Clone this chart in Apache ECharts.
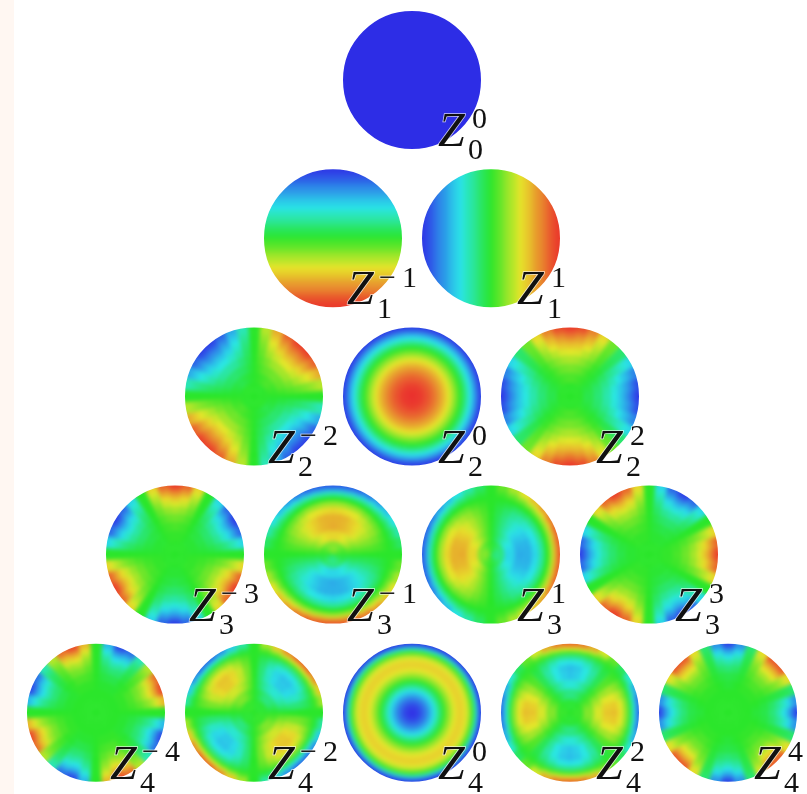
<!DOCTYPE html>
<html>
<head>
<meta charset="utf-8">
<script src="https://cdn.jsdelivr.net/npm/echarts@6/dist/echarts.min.js"></script>
<style>
html, body { margin: 0; padding: 0; background: #fff; overflow: hidden; }
#chart, #labels { position: absolute; left: 0; top: 0; width: 807px; height: 794px; }
/* the cells are softened here, the mask layer on top keeps the disc edges clean */
#chart { filter: blur(2px); }
#labels { filter: blur(0.5px); }
</style>
</head>
<body>
<div id="chart"></div>
<div id="labels"></div>
<script>
// values are colour levels 0 (blue) .. 100 (red), read from each disc
const z00Rings = [[0]];

// single-axis discs: left to right / top to bottom
const z1p1Bands = [2,5,8,12,15,18,22,25,28,32,35,38,42,45,48,52,55,58,62,65,68,72,75,78,82,85,88,92,95,98];
const z1m1Bands = [2,5,8,12,15,18,22,25,28,32,35,38,42,45,48,52,55,58,62,65,68,72,75,78,82,85,88,92,95,98];

// radial discs: centre to edge
const z20Rings = [100,100,99,99,98,97,95,94,92,90,88,85,83,80,77,73,70,66,62,58,53,49,44,39,33,28,22,16,10,3].map(v => [v]);
const z40Rings = [0,1,2,4,7,10,13,18,22,27,32,38,43,48,54,59,63,67,71,73,75,75,74,71,67,60,52,38,22,3].map(v => [v]);

// ring by ring, 36 sectors counter-clockwise from 3 o'clock
const z2m2Rings = [
  [50,50,50,50,50,50,50,50,50,50,50,50,50,50,50,50,50,50,50,50,50,50,50,50,50,50,50,50,50,50,50,50,50,50,50,50],
  [50,51,52,53,54,54,53,52,51,50,49,48,47,46,46,47,48,49,50,51,52,53,54,54,53,52,51,50,49,48,47,46,46,47,48,49],
  [50,53,56,57,58,58,57,56,53,50,47,44,43,42,42,43,44,47,50,53,56,57,58,58,57,56,53,50,47,44,43,42,42,43,44,47],
  [50,55,59,63,64,64,63,59,55,50,45,41,37,36,36,37,41,45,50,55,59,63,64,64,63,59,55,50,45,41,37,36,36,37,41,45],
  [50,57,64,68,71,71,68,64,57,50,43,36,32,29,29,32,36,43,50,57,64,68,71,71,68,64,57,50,43,36,32,29,29,32,36,43],
  [50,59,68,74,77,77,74,68,59,50,41,32,26,23,23,26,32,41,50,59,68,74,77,77,74,68,59,50,41,32,26,23,23,26,32,41],
  [50,61,71,79,83,83,79,71,61,50,39,29,21,17,17,21,29,39,50,61,71,79,83,83,79,71,61,50,39,29,21,17,17,21,29,39],
  [50,63,75,84,88,88,84,75,63,50,37,25,16,12,12,16,25,37,50,63,75,84,88,88,84,75,63,50,37,25,16,12,12,16,25,37],
  [50,65,78,88,93,93,88,78,65,50,35,22,12,7,7,12,22,35,50,65,78,88,93,93,88,78,65,50,35,22,12,7,7,12,22,35],
  [50,66,81,92,97,97,92,81,66,50,34,19,8,3,3,8,19,34,50,66,81,92,97,97,92,81,66,50,34,19,8,3,3,8,19,34]
];
const z2p2Rings = [
  [50,50,50,50,50,50,50,50,50,50,50,50,50,50,50,50,50,50,50,50,50,50,50,50,50,50,50,50,50,50,50,50,50,50,50,50],
  [46,46,47,48,49,51,52,53,54,54,54,53,52,51,49,48,47,46,46,46,47,48,49,51,52,53,54,54,54,53,52,51,49,48,47,46],
  [41,42,43,46,49,51,54,57,58,59,58,57,54,51,49,46,43,42,41,42,43,46,49,51,54,57,58,59,58,57,54,51,49,46,43,42],
  [35,36,39,43,48,52,57,61,64,65,64,61,57,52,48,43,39,36,35,36,39,43,48,52,57,61,64,65,64,61,57,52,48,43,39,36],
  [29,30,34,39,46,54,61,66,70,71,70,66,61,54,46,39,34,30,29,30,34,39,46,54,61,66,70,71,70,66,61,54,46,39,34,30],
  [23,24,29,36,45,55,64,71,76,77,76,71,64,55,45,36,29,24,23,24,29,36,45,55,64,71,76,77,76,71,64,55,45,36,29,24],
  [17,19,24,33,44,56,67,76,81,83,81,76,67,56,44,33,24,19,17,19,24,33,44,56,67,76,81,83,81,76,67,56,44,33,24,19],
  [11,14,20,31,43,57,69,80,86,89,86,80,69,57,43,31,20,14,11,14,20,31,43,57,69,80,86,89,86,80,69,57,43,31,20,14],
  [6,9,16,28,43,57,72,84,91,94,91,84,72,57,43,28,16,9,6,9,16,28,43,57,72,84,91,94,91,84,72,57,43,28,16,9],
  [2,5,13,26,42,58,74,87,95,98,95,87,74,58,42,26,13,5,2,5,13,26,42,58,74,87,95,98,95,87,74,58,42,26,13,5]
];
const z3m3Rings = [
  [50,50,50,50,50,50,50,50,50,50,50,50,50,50,50,50,50,50,50,50,50,50,50,50,50,50,50,50,50,50,50,50,50,50,50,50],
  [50,49,49,49,49,49,50,51,51,51,51,51,50,49,49,49,49,49,50,51,51,51,51,51,50,49,49,49,49,49,50,51,51,51,51,51],
  [50,48,47,46,47,48,50,52,53,54,53,52,50,48,47,46,47,48,50,52,53,54,53,52,50,48,47,46,47,48,50,52,53,54,53,52],
  [50,46,43,42,43,46,50,54,57,58,57,54,50,46,43,42,43,46,50,54,57,58,57,54,50,46,43,42,43,46,50,54,57,58,57,54],
  [50,43,38,36,38,43,50,57,62,64,62,57,50,43,38,36,38,43,50,57,62,64,62,57,50,43,38,36,38,43,50,57,62,64,62,57],
  [50,40,32,30,32,40,50,60,68,70,68,60,50,40,32,30,32,40,50,60,68,70,68,60,50,40,32,30,32,40,50,60,68,70,68,60],
  [50,36,27,23,27,36,50,64,73,77,73,64,50,36,27,23,27,36,50,64,73,77,73,64,50,36,27,23,27,36,50,64,73,77,73,64],
  [50,33,20,16,20,33,50,67,80,84,80,67,50,33,20,16,20,33,50,67,80,84,80,67,50,33,20,16,20,33,50,67,80,84,80,67],
  [50,30,14,9,14,30,50,70,86,91,86,70,50,30,14,9,14,30,50,70,86,91,86,70,50,30,14,9,14,30,50,70,86,91,86,70],
  [50,26,9,3,9,26,50,74,91,97,91,74,50,26,9,3,9,26,50,74,91,97,91,74,50,26,9,3,9,26,50,74,91,97,91,74]
];
const z3p3Rings = [
  [50,50,50,50,50,50,50,50,50,50,50,50,50,50,50,50,50,50,50,50,50,50,50,50,50,50,50,50,50,50,50,50,50,50,50,50],
  [51,51,51,50,49,49,49,49,49,50,51,51,51,51,51,50,49,49,49,49,49,50,51,51,51,51,51,50,49,49,49,49,49,50,51,51],
  [54,53,52,50,48,47,46,47,48,50,52,53,54,53,52,50,48,47,46,47,48,50,52,53,54,53,52,50,48,47,46,47,48,50,52,53],
  [58,57,54,50,46,43,42,43,46,50,54,57,58,57,54,50,46,43,42,43,46,50,54,57,58,57,54,50,46,43,42,43,46,50,54,57],
  [64,62,57,50,43,38,36,38,43,50,57,62,64,62,57,50,43,38,36,38,43,50,57,62,64,62,57,50,43,38,36,38,43,50,57,62],
  [70,68,60,50,40,32,30,32,40,50,60,68,70,68,60,50,40,32,30,32,40,50,60,68,70,68,60,50,40,32,30,32,40,50,60,68],
  [77,73,64,50,36,27,23,27,36,50,64,73,77,73,64,50,36,27,23,27,36,50,64,73,77,73,64,50,36,27,23,27,36,50,64,73],
  [84,80,67,50,33,20,16,20,33,50,67,80,84,80,67,50,33,20,16,20,33,50,67,80,84,80,67,50,33,20,16,20,33,50,67,80],
  [91,86,70,50,30,14,9,14,30,50,70,86,91,86,70,50,30,14,9,14,30,50,70,86,91,86,70,50,30,14,9,14,30,50,70,86],
  [97,91,74,50,26,9,3,9,26,50,74,91,97,91,74,50,26,9,3,9,26,50,74,91,97,91,74,50,26,9,3,9,26,50,74,91]
];
const z3p1Rings = [
  [40,40,41,41,42,44,45,47,48,50,52,53,55,56,58,59,59,60,60,60,59,59,58,56,55,53,52,50,48,47,45,44,42,41,41,40],
  [26,26,27,29,31,34,38,42,46,50,54,58,62,66,69,71,73,74,74,74,73,71,69,66,62,58,54,50,46,42,38,34,31,29,27,26],
  [19,20,21,23,26,30,35,40,45,50,55,60,65,70,74,77,79,80,81,80,79,77,74,70,65,60,55,50,45,40,35,30,26,23,21,20],
  [20,20,21,24,27,31,35,40,45,50,55,60,65,69,73,76,79,80,80,80,79,76,73,69,65,60,55,50,45,40,35,31,27,24,21,20],
  [26,27,28,29,32,35,38,42,46,50,54,58,62,65,68,71,72,73,74,73,72,71,68,65,62,58,54,50,46,42,38,35,32,29,28,27],
  [37,37,38,39,40,42,43,46,48,50,52,54,57,58,60,62,62,63,63,63,62,62,60,58,57,54,52,50,48,46,43,42,40,39,38,37],
  [50,50,50,50,50,50,50,50,50,50,50,50,50,50,50,50,50,50,50,50,50,50,50,50,50,50,50,50,50,50,50,50,50,50,50,50],
  [64,64,63,62,61,59,57,55,52,50,48,45,43,41,39,38,37,36,36,36,37,38,39,41,43,45,48,50,52,55,57,59,61,62,63,64],
  [79,79,77,75,72,69,65,60,55,50,45,40,35,31,28,25,23,21,21,21,23,25,28,31,35,40,45,50,55,60,65,69,72,75,77,79],
  [93,92,91,88,83,78,72,65,57,50,43,35,28,22,17,12,9,8,7,8,9,12,17,22,28,35,43,50,57,65,72,78,83,88,91,92]
];
const z3m1Rings = [
  [50,52,53,55,56,58,59,59,60,60,60,59,59,58,56,55,53,52,50,48,47,45,44,42,41,41,40,40,40,41,41,42,44,45,47,48],
  [50,54,58,62,66,69,71,73,74,74,74,73,71,69,66,62,58,54,50,46,42,38,34,31,29,27,26,26,26,27,29,31,34,38,42,46],
  [50,55,60,65,70,74,77,79,80,81,80,79,77,74,70,65,60,55,50,45,40,35,30,26,23,21,20,19,20,21,23,26,30,35,40,45],
  [50,55,60,65,69,73,76,79,80,80,80,79,76,73,69,65,60,55,50,45,40,35,31,27,24,21,20,20,20,21,24,27,31,35,40,45],
  [50,54,58,62,65,68,71,72,73,74,73,72,71,68,65,62,58,54,50,46,42,38,35,32,29,28,27,26,27,28,29,32,35,38,42,46],
  [50,52,54,57,58,60,62,62,63,63,63,62,62,60,58,57,54,52,50,48,46,43,42,40,39,38,37,37,37,38,39,40,42,43,46,48],
  [50,50,50,50,50,50,50,50,50,50,50,50,50,50,50,50,50,50,50,50,50,50,50,50,50,50,50,50,50,50,50,50,50,50,50,50],
  [50,48,45,43,41,39,38,37,36,36,36,37,38,39,41,43,45,48,50,52,55,57,59,61,62,63,64,64,64,63,62,61,59,57,55,52],
  [50,45,40,35,31,28,25,23,21,21,21,23,25,28,31,35,40,45,50,55,60,65,69,72,75,77,79,79,79,77,75,72,69,65,60,55],
  [50,43,35,28,22,17,12,9,8,7,8,9,12,17,22,28,35,43,50,57,65,72,78,83,88,91,92,93,92,91,88,83,78,72,65,57]
];
const z4m4Rings = [
  [50,50,50,50,50,50,50,50,50,50,50,50,50,50,50,50,50,50,50,50,50,50,50,50,50,50,50,50,50,50,50,50,50,50,50,50],
  [50,50,50,50,50,50,50,50,50,50,50,50,50,50,50,50,50,50,50,50,50,50,50,50,50,50,50,50,50,50,50,50,50,50,50,50],
  [50,51,51,51,51,49,49,49,49,50,51,51,51,51,49,49,49,49,50,51,51,51,51,49,49,49,49,50,51,51,51,51,49,49,49,49],
  [50,53,54,54,51,49,46,46,47,50,53,54,54,51,49,46,46,47,50,53,54,54,51,49,46,46,47,50,53,54,54,51,49,46,46,47],
  [50,56,59,58,53,47,42,41,44,50,56,59,58,53,47,42,41,44,50,56,59,58,53,47,42,41,44,50,56,59,58,53,47,42,41,44],
  [50,60,65,63,55,45,37,35,40,50,60,65,63,55,45,37,35,40,50,60,65,63,55,45,37,35,40,50,60,65,63,55,45,37,35,40],
  [50,64,72,69,57,43,31,28,36,50,64,72,69,57,43,31,28,36,50,64,72,69,57,43,31,28,36,50,64,72,69,57,43,31,28,36],
  [50,69,79,76,60,40,24,21,31,50,69,79,76,60,40,24,21,31,50,69,79,76,60,40,24,21,31,50,69,79,76,60,40,24,21,31],
  [50,74,87,83,63,37,17,13,26,50,74,87,83,63,37,17,13,26,50,74,87,83,63,37,17,13,26,50,74,87,83,63,37,17,13,26],
  [50,79,95,90,66,34,10,5,21,50,79,95,90,66,34,10,5,21,50,79,95,90,66,34,10,5,21,50,79,95,90,66,34,10,5,21]
];
const z4p4Rings = [
  [50,50,50,50,50,50,50,50,50,50,50,50,50,50,50,50,50,50,50,50,50,50,50,50,50,50,50,50,50,50,50,50,50,50,50,50],
  [50,50,50,50,50,50,50,50,50,50,50,50,50,50,50,50,50,50,50,50,50,50,50,50,50,50,50,50,50,50,50,50,50,50,50,50],
  [48,49,50,51,51,51,51,50,49,48,49,50,51,51,51,51,50,49,48,49,50,51,51,51,51,50,49,48,49,50,51,51,51,51,50,49],
  [46,47,49,52,54,54,52,49,47,46,47,49,52,54,54,52,49,47,46,47,49,52,54,54,52,49,47,46,47,49,52,54,54,52,49,47],
  [41,43,48,55,58,58,55,48,43,41,43,48,55,58,58,55,48,43,41,43,48,55,58,58,55,48,43,41,43,48,55,58,58,55,48,43],
  [35,38,47,58,64,64,58,47,38,35,38,47,58,64,64,58,47,38,35,38,47,58,64,64,58,47,38,35,38,47,58,64,64,58,47,38],
  [28,33,46,61,71,71,61,46,33,28,33,46,61,71,71,61,46,33,28,33,46,61,71,71,61,46,33,28,33,46,61,71,71,61,46,33],
  [20,27,45,65,78,78,65,45,27,20,27,45,65,78,78,65,45,27,20,27,45,65,78,78,65,45,27,20,27,45,65,78,78,65,45,27],
  [12,21,44,69,86,86,69,44,21,12,21,44,69,86,86,69,44,21,12,21,44,69,86,86,69,44,21,12,21,44,69,86,86,69,44,21],
  [4,15,42,73,93,93,73,42,15,4,15,42,73,93,93,73,42,15,4,15,42,73,93,93,73,42,15,4,15,42,73,93,93,73,42,15]
];
const z4m2Rings = [
  [50,49,49,49,49,49,49,49,49,50,51,51,51,51,51,51,51,51,50,49,49,49,49,49,49,49,49,50,51,51,51,51,51,51,51,51],
  [50,47,44,41,40,40,41,44,47,50,53,56,59,60,60,59,56,53,50,47,44,41,40,40,41,44,47,50,53,56,59,60,60,59,56,53],
  [50,43,37,33,31,31,33,37,43,50,57,63,67,69,69,67,63,57,50,43,37,33,31,31,33,37,43,50,57,63,67,69,69,67,63,57],
  [50,41,33,27,24,24,27,33,41,50,59,67,73,76,76,73,67,59,50,41,33,27,24,24,27,33,41,50,59,67,73,76,76,73,67,59],
  [50,41,32,26,23,23,26,32,41,50,59,68,74,77,77,74,68,59,50,41,32,26,23,23,26,32,41,50,59,68,74,77,77,74,68,59],
  [50,43,36,31,28,28,31,36,43,50,57,64,69,72,72,69,64,57,50,43,36,31,28,28,31,36,43,50,57,64,69,72,72,69,64,57],
  [50,46,43,40,39,39,40,43,46,50,54,57,60,61,61,60,57,54,50,46,43,40,39,39,40,43,46,50,54,57,60,61,61,60,57,54],
  [50,51,52,53,54,54,53,52,51,50,49,48,47,46,46,47,48,49,50,51,52,53,54,54,53,52,51,50,49,48,47,46,46,47,48,49],
  [50,57,64,69,71,71,69,64,57,50,43,36,31,29,29,31,36,43,50,57,64,69,71,71,69,64,57,50,43,36,31,29,29,31,36,43],
  [50,64,76,85,90,90,85,76,64,50,36,24,15,10,10,15,24,36,50,64,76,85,90,90,85,76,64,50,36,24,15,10,10,15,24,36]
];
const z4p2Rings = [
  [52,51,51,51,50,50,49,49,49,49,49,49,49,50,50,51,51,51,52,51,51,51,50,50,49,49,49,49,49,49,49,50,50,51,51,51],
  [60,60,58,55,52,48,45,42,40,40,40,42,45,48,52,55,58,60,60,60,58,55,52,48,45,42,40,40,40,42,45,48,52,55,58,60],
  [70,69,65,60,53,47,40,35,31,30,31,35,40,47,53,60,65,69,70,69,65,60,53,47,40,35,31,30,31,35,40,47,53,60,65,69],
  [77,75,71,63,55,45,37,29,25,23,25,29,37,45,55,63,71,75,77,75,71,63,55,45,37,29,25,23,25,29,37,45,55,63,71,75],
  [78,76,71,64,55,45,36,29,24,22,24,29,36,45,55,64,71,76,78,76,71,64,55,45,36,29,24,22,24,29,36,45,55,64,71,76],
  [72,71,67,61,54,46,39,33,29,28,29,33,39,46,54,61,67,71,72,71,67,61,54,46,39,33,29,28,29,33,39,46,54,61,67,71],
  [61,61,59,56,52,48,44,41,39,39,39,41,44,48,52,56,59,61,61,61,59,56,52,48,44,41,39,39,39,41,44,48,52,56,59,61],
  [46,46,47,48,49,51,52,53,54,54,54,53,52,51,49,48,47,46,46,46,47,48,49,51,52,53,54,54,54,53,52,51,49,48,47,46],
  [28,30,33,39,46,54,61,67,70,72,70,67,61,54,46,39,33,30,28,30,33,39,46,54,61,67,70,72,70,67,61,54,46,39,33,30],
  [10,12,19,30,43,57,70,81,88,90,88,81,70,57,43,30,19,12,10,12,19,30,43,57,70,81,88,90,88,81,70,57,43,30,19,12]
];

// pyramid rows: [subscript, superscript, kind, table]
const pyramid = [
  [[0, 0, 'rings', z00Rings]],
  [[1, -1, 'rowBands', z1m1Bands], [1, 1, 'colBands', z1p1Bands]],
  [[2, -2, 'rings', z2m2Rings], [2, 0, 'rings', z20Rings], [2, 2, 'rings', z2p2Rings]],
  [[3, -3, 'rings', z3m3Rings], [3, -1, 'rings', z3m1Rings], [3, 1, 'rings', z3p1Rings], [3, 3, 'rings', z3p3Rings]],
  [[4, -4, 'rings', z4m4Rings], [4, -2, 'rings', z4m2Rings], [4, 0, 'rings', z40Rings], [4, 2, 'rings', z4p2Rings], [4, 4, 'rings', z4p4Rings]]
];

// the 2D tables use narrower rings towards the edge
const ringEdges = [0, 0.2, 0.35, 0.48, 0.6, 0.7, 0.78, 0.85, 0.91, 0.96, 1];
const colorStops = ['#2d2de6','#2c5ce7','#2b8ce8','#29bae8','#28e6e6','#28e6a7','#28e667','#28e628',
  '#67e628','#a7e628','#e6e628','#e7ba2a','#e88c2c','#e95c2b','#ea2e2a'];

const discRadius = 69;
const midX = 412, topY = 80, stepX = 158, stepY = 158.2;
// outermost cells run on under the mask, so the blur does not fade the rim
const overdraw = 1.12;

function ringCells(table) {
  const cells = [];
  table.forEach(function (row, i) {
    const edges = table.length === 10 ? ringEdges : null;
    const r0 = edges ? edges[i] : i / table.length;
    const r1 = i === table.length - 1 ? overdraw : (edges ? edges[i + 1] : (i + 1) / table.length);
    const step = 360 / row.length;
    row.forEach(function (v, k) {
      cells.push([r0, r1, k * step - step / 2, k * step + step / 2, v]);
    });
  });
  return cells;
}

function bandCells(table, kind) {
  const last = table.length - 1;
  return table.map(function (v, i) {
    const a = i === 0 ? -overdraw : -1 + 2 * i / table.length;
    const b = i === last ? overdraw : -1 + 2 * (i + 1) / table.length;
    // row bands run from the top down
    return kind === 'colBands' ? [a, b, -overdraw, overdraw, v] : [-overdraw, overdraw, -a, -b, v];
  });
}

function renderRing(params, api) {
  const c = api.coord([0, 0]);
  const unit = api.size([1, 1])[0];
  const color = api.visual('color');
  return {
    type: 'sector',
    shape: {
      cx: c[0], cy: c[1],
      r0: api.value(0) * unit, r: api.value(1) * unit,
      startAngle: -api.value(3) * Math.PI / 180,
      endAngle: -api.value(2) * Math.PI / 180,
      clockwise: true
    },
    style: { fill: color, stroke: color, lineWidth: 0.6 }
  };
}

function renderBand(params, api) {
  const c = api.coord([0, 0]);
  const unit = api.size([1, 1])[0];
  const p0 = api.coord([api.value(0), api.value(2)]);
  const p1 = api.coord([api.value(1), api.value(3)]);
  const color = api.visual('color');
  return {
    type: 'rect',
    shape: {
      x: Math.min(p0[0], p1[0]), y: Math.min(p0[1], p1[1]),
      width: Math.abs(p1[0] - p0[0]), height: Math.abs(p1[1] - p0[1])
    },
    style: { fill: color, stroke: color, lineWidth: 0.6 },
    clipPath: { type: 'circle', shape: { cx: c[0], cy: c[1], r: unit * overdraw } }
  };
}

const grids = [], xAxes = [], yAxes = [], series = [];
const maskAndLabels = [{ type: 'rect', z: 60, shape: { x: 0, y: 0, width: 14, height: 794 }, style: { fill: '#fff7f2' } }];
const zFont = 'italic 48px "Liberation Serif"';
const digitFont = '30px "Liberation Serif"';

function addText(text, x, y, font) {
  maskAndLabels.push({
    type: 'text', x: x, y: y, z: 100,
    style: { text: text, font: font, fill: '#111', textAlign: 'left', textVerticalAlign: 'middle',
      stroke: 'rgba(255,255,255,0.75)', lineWidth: 1.5 }
  });
}

pyramid.forEach(function (row, ri) {
  row.forEach(function (d, ci) {
    const cx = midX + (ci - (row.length - 1) / 2) * stepX;
    const cy = topY + ri * stepY;
    const idx = grids.length;
    grids.push({ left: cx - discRadius, top: cy - discRadius, width: 2 * discRadius, height: 2 * discRadius });
    xAxes.push({ gridIndex: idx, type: 'value', min: -1, max: 1, show: false });
    yAxes.push({ gridIndex: idx, type: 'value', min: -1, max: 1, show: false });
    const isRing = d[2] === 'rings';
    series.push({
      type: 'custom',
      xAxisIndex: idx, yAxisIndex: idx,
      coordinateSystem: 'cartesian2d',
      clip: false,
      progressive: 0,
      encode: { x: 0, y: 1 },
      renderItem: isRing ? renderRing : renderBand,
      data: isRing ? ringCells(d[3]) : bandCells(d[3], d[2])
    });

    // white collar around the disc, drawn on the sharp layer
    maskAndLabels.push({
      type: 'circle', z: 50,
      shape: { cx: cx, cy: cy, r: discRadius + 8 },
      style: { fill: 'none', stroke: '#fff', lineWidth: 16 }
    });

    // Z with its indices
    const zx = cx + (d[1] < 0 ? 14 : 26);
    addText('Z', zx, cy + 53.5, zFont);
    addText(d[1] < 0 ? '\u2212\u2009' + (-d[1]) : String(d[1]), zx + (d[1] < 0 ? 32 : 34), cy + 40.5, digitFont);
    addText(String(d[0]), zx + 30, cy + 71.5, digitFont);
  });
});

const myChart = echarts.init(document.getElementById('chart'), null, { renderer: 'canvas' });
myChart.setOption({
  animation: false,
  backgroundColor: '#fff',
  grid: grids,
  xAxis: xAxes,
  yAxis: yAxes,
  visualMap: { show: false, type: 'continuous', min: 0, max: 100, dimension: 4, inRange: { color: colorStops } },
  series: series
});

const labelChart = echarts.init(document.getElementById('labels'), null, { renderer: 'canvas' });
labelChart.setOption({
  animation: false,
  backgroundColor: 'transparent',
  graphic: { elements: maskAndLabels }
});
</script>
</body>
</html>
